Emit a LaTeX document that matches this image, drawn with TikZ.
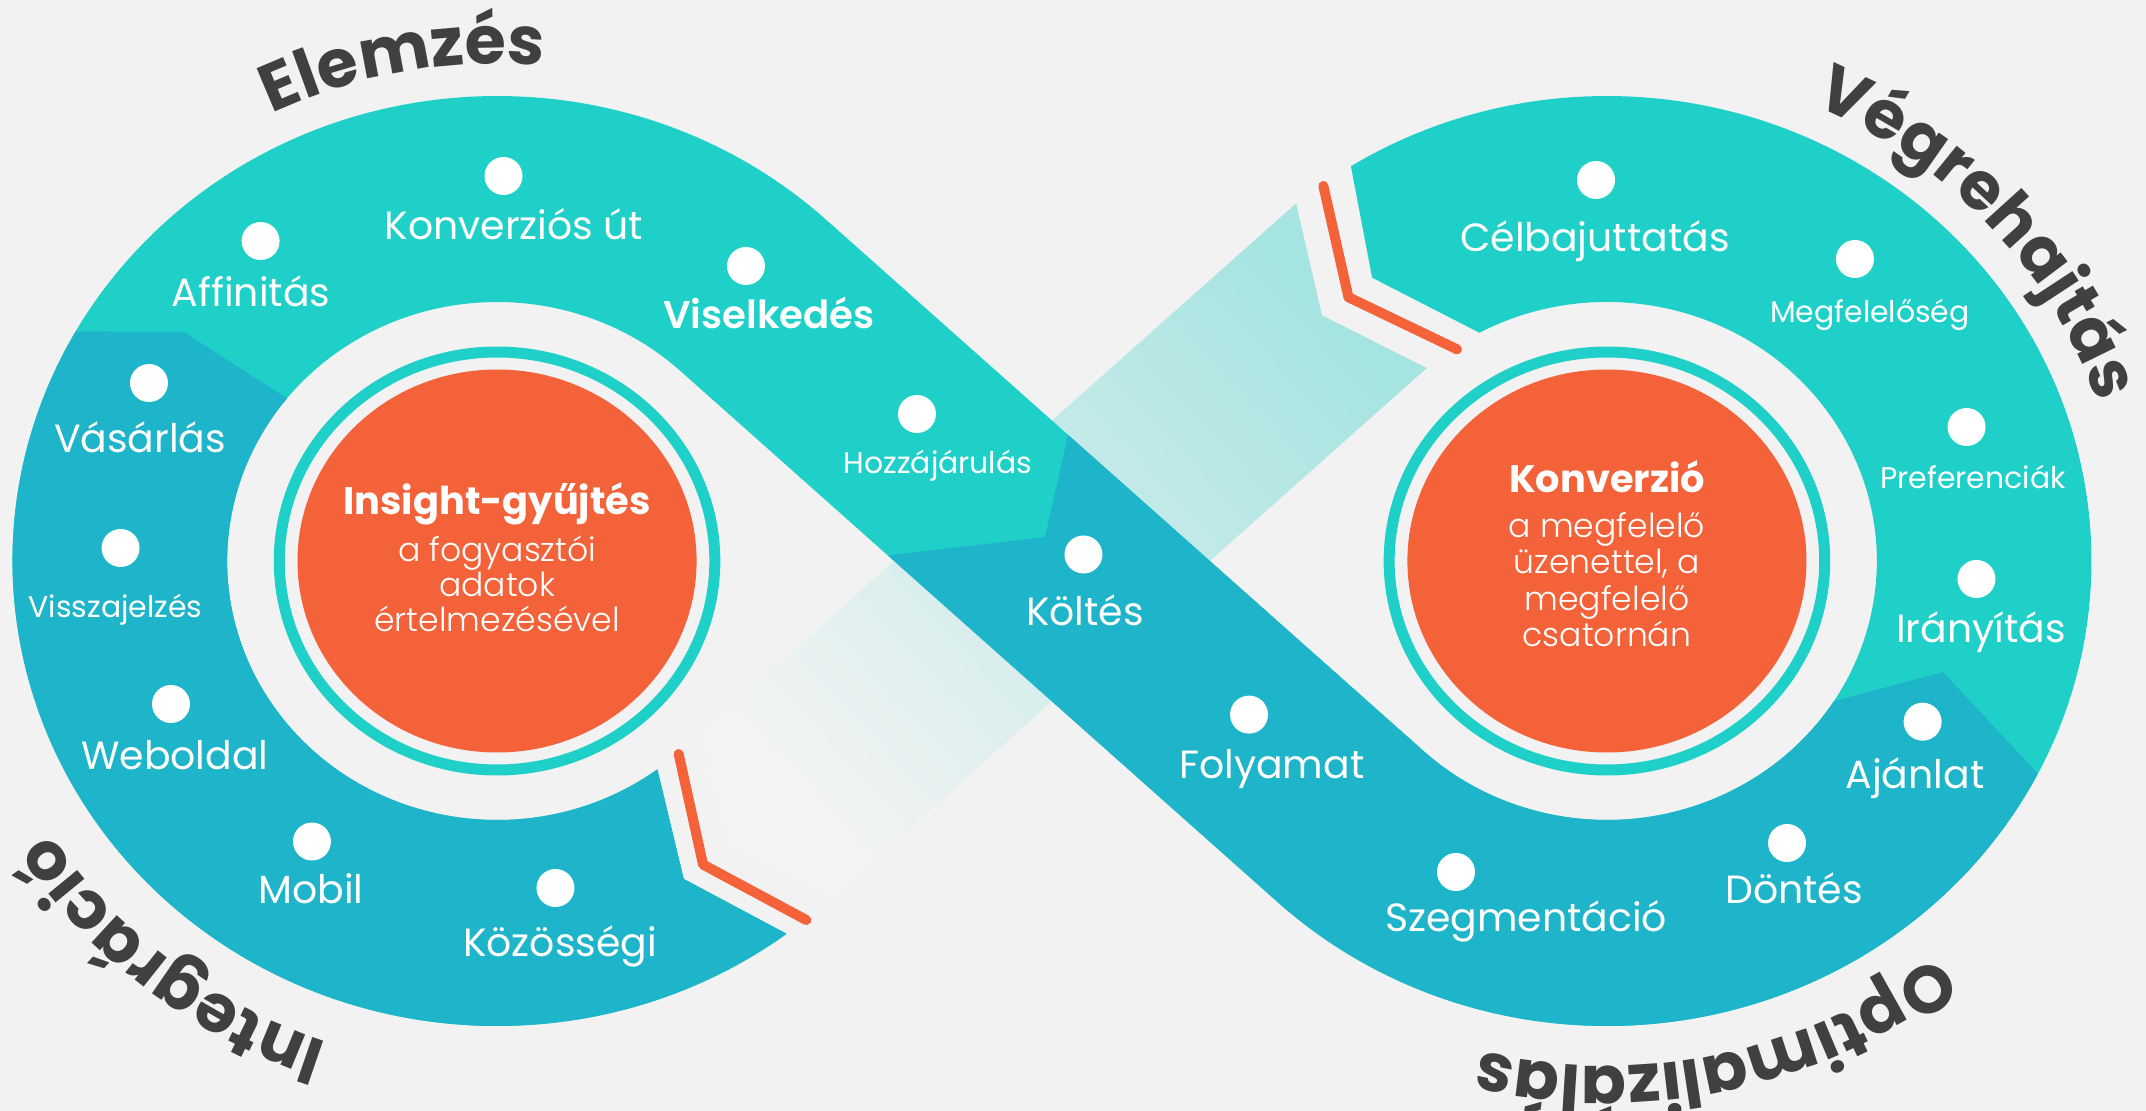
\documentclass[tikz,border=0pt]{standalone}
\usepackage{fontspec}
\setmainfont{Poppins}
\newfontfamily\thinfont{Poppins Light}
\newfontfamily\semifont{Poppins SemiBold}
\usepackage{tikz}
\usetikzlibrary{calc,decorations.text}

\definecolor{bgc}{HTML}{F2F2F2}
\definecolor{tealc}{HTML}{1FD0C9}
\definecolor{bluec}{HTML}{1EB4C9}
\definecolor{orangec}{HTML}{F4623A}
\definecolor{darkc}{HTML}{404040}
\definecolor{fadec}{HTML}{A6E4E1}
\definecolor{palec}{HTML}{F2F3F3}

\newcommand{\ttl}{\bfseries\fontsize{19}{19}\selectfont}

\begin{document}
\begin{tikzpicture}[xscale=1.042,
  dot/.style={circle,fill=white,inner sep=0pt,minimum size=0.38cm},
  lbl/.style={text=white,anchor=base,inner sep=0pt,font=\fontsize{11.2}{13}\selectfont},
  lbls/.style={lbl,font=\fontsize{8.5}{10}\selectfont},
  ctitle/.style={text=white,anchor=base,inner sep=0pt,font=\bfseries\fontsize{10.9}{12}\selectfont},
  ctext/.style={text=white,anchor=base,inner sep=0pt,font=\thinfont\fontsize{9.4}{11}\selectfont},
  chev/.style={draw=orangec,line width=0.1cm,line cap=round,line join=round},
  title/.style={decorate,decoration={text along path,text align=center,text color=darkc}}]

\path[use as bounding box,fill=bgc] (-10.096,-5.50) rectangle (10.499,5.61);

\def\rout{4.65}
\def\rin{2.59}
\coordinate (CL) at (-5.325,0);
\coordinate (CR) at (5.325,0);

% Faded band (behind)
\begin{scope}[rotate=42.83]
\fill[palec] (-3.64,1.03) -- (4.15,1.03) -- (3.57,0.04) -- (3.95,-1.03) -- (-3.84,-1.03) -- (-4.22,0.04) -- cycle;
\shade[bottom color=palec,top color=fadec,shading angle=-47.2]
  (-3.64,1.03) -- (4.15,1.03) -- (3.57,0.04) -- (3.95,-1.03) -- (-3.84,-1.03) -- (-4.22,0.04) -- cycle;
\draw[chev] (-3.94,1.02) -- (-4.52,0.05) -- (-4.17,-1.03);
\draw[chev] (4.46,0.98) -- (3.88,0.0) -- (4.29,-1.09);
\end{scope}

% Ribbon
\fill[tealc] ($(CL)+(47.17:\rout)$) arc[start angle=47.17,end angle=306.7,radius=\rout]
  -- ($(CL)+(299.4:3.65)$) -- ($(CL)+(306.45:\rin)$)
  arc[start angle=306.45,end angle=47.17,radius=\rin]
  -- ($(CR)+(227.17:\rout)$) arc[start angle=227.17,end angle=481.9,radius=\rout]
  -- ($(CR)+(128.5:3.62)$) -- ($(CR)+(118.2:\rin)$)
  arc[start angle=478.2,end angle=227.17,radius=\rin] -- cycle;

% Integracio part
\fill[bluec] ($(CL)+(150.4:\rout)$) arc[start angle=150.4,end angle=306.7,radius=\rout]
  -- ($(CL)+(299.4:3.65)$) -- ($(CL)+(306.45:\rin)$)
  arc[start angle=306.45,end angle=141.1,radius=\rin]
  -- ($(CL)+(142.7:3.78)$) -- cycle;

% Optimalizalas part
\begin{scope}[rotate=-42.83]
\coordinate (ba) at (-0.744,1.03);
\coordinate (bb) at (-0.212,0.13);
\coordinate (bc) at (-1.195,-1.03);
\end{scope}
\fill[bluec] (ba) -- (bb) -- (bc) -- ($(CR)+(227.17:\rout)$)
  arc[start angle=227.17,end angle=332.8,radius=\rout]
  -- ($(CR)+(341:3.41)$) -- ($(CR)+(327.2:\rin)$)
  arc[start angle=327.2,end angle=227.17,radius=\rin] -- cycle;

% Centres
\foreach \c in {CL,CR} {
  \draw[tealc,line width=0.11cm] (\c) circle[radius=2.09];
  \fill[orangec] (\c) circle[radius=1.915];
}

% Dots and labels
\node[dot] (dKonv) at (-5.264,3.85) {};
\node[lbl] (tKonv) at (-5.163,3.216) {Konverziós út};
\node[dot] (dAff) at (-7.595,3.20) {};
\node[lbl] (tAff) at (-7.687,2.543) {Affinitás};
\node[dot] (dVas) at (-8.666,1.78) {};
\node[lbl] (tVas) at (-8.752,1.08) {Vásárlás};
\node[dot] (dVissz) at (-8.939,0.13) {};
\node[lbls] (tVissz) at (-8.988,-0.568) {Visszajelzés};
\node[dot] (dWeb) at (-8.455,-1.43) {};
\node[lbl] (tWeb) at (-8.417,-2.085) {Weboldal};
\node[dot] (dMob) at (-7.102,-2.805) {};
\node[lbl] (tMob) at (-7.111,-3.42) {Mobil};
\node[dot] (dKoz) at (-4.765,-3.27) {};
\node[lbl] (tKoz) at (-4.722,-3.95) {Közösségi};
\node[dot] (dVis) at (-2.937,2.95) {};
\node[lbl,font=\semifont\fontsize{11}{13}\selectfont] (tVis) at (-2.716,2.32) {Viselkedés};
\node[dot] (dHozz) at (-1.296,1.47) {};
\node[lbls] (tHozz) at (-1.094,0.876) {Hozzájárulás};
\node[dot] (dKolt) at (0.302,0.065) {};
\node[lbl] (tKolt) at (0.317,-0.65) {Költés};
\node[dot] (dFoly) at (1.891,-1.536) {};
\node[lbl] (tFoly) at (2.111,-2.174) {Folyamat};
\node[dot] (dSzeg) at (3.877,-3.11) {};
\node[lbl] (tSzeg) at (4.549,-3.70) {Szegmentáció};
\node[dot] (dDont) at (7.054,-2.82) {};
\node[lbl] (tDont) at (7.121,-3.43) {Döntés};
\node[dot] (dAjan) at (8.355,-1.607) {};
\node[lbl] (tAjan) at (8.282,-2.27) {Ajánlat};
\node[dot] (dIrany) at (8.872,-0.18) {};
\node[lbl] (tIrany) at (8.916,-0.816) {Irányítás};
\node[dot] (dPref) at (8.777,1.34) {};
\node[lbls] (tPref) at (8.839,0.723) {Preferenciák};
\node[dot] (dMegf) at (7.706,3.02) {};
\node[lbls] (tMegf) at (7.850,2.383) {Megfelelőség};
\node[dot] (dCel) at (5.221,3.81) {};
\node[lbl] (tCel) at (5.211,3.092) {Célbajuttatás};

% Circle texts
\node[ctitle] (insTitle) at ($(CL)+(0,0.47)$) {Insight-gyűjtés};
\node[ctext] (ins1) at ($(CL)+(0,0)$) {a fogyasztói};
\node[ctext] (ins2) at ($(CL)+(0,-0.355)$) {adatok};
\node[ctext] (ins3) at ($(CL)+(0,-0.71)$) {értelmezésével};
\node[ctitle] (konvTitle) at ($(CR)+(0,0.69)$) {Konverzió};
\node[ctext] (konv1) at ($(CR)+(0,0.24)$) {a megfelelő};
\node[ctext] (konv2) at ($(CR)+(0,-0.125)$) {üzenettel, a};
\node[ctext] (konv3) at ($(CR)+(0,-0.49)$) {megfelelő};
\node[ctext] (konv4) at ($(CR)+(0,-0.86)$) {csatornán};

% Stage titles
\path[title,decoration={text={|\ttl|Elemzés}}]
  ($(CL)+(130.35:4.97)$) arc[start angle=130.35,end angle=70.35,radius=4.97];
\path[title,decoration={text={|\ttl|Végrehajtás}}]
  ($(CR)+(72.4:4.97)$) arc[start angle=72.4,end angle=12.4,radius=4.97];
\path[title,decoration={text={|\ttl|Optimalizálás}}]
  ($(CR)+(-47.6:5.05)$) arc[start angle=-47.6,end angle=-107.6,radius=5.05];
\path[title,decoration={text={|\ttl|Integráció}}]
  ($(CL)+(-98.3:5.08)$) arc[start angle=-98.3,end angle=-158.3,radius=5.08];
\end{tikzpicture}
\end{document}
